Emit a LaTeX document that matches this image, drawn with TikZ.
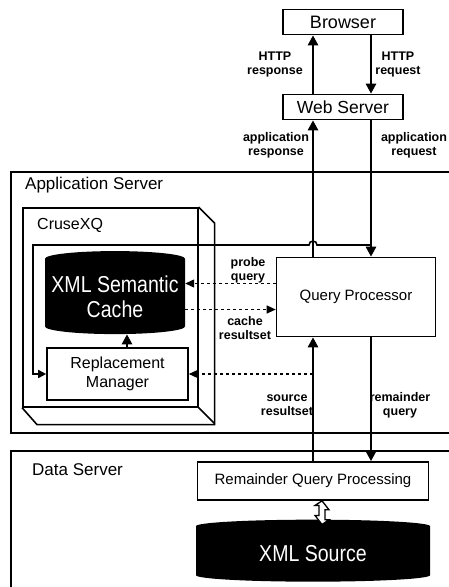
\documentclass[tikz,border=0pt]{standalone}
\usepackage{fontspec}
\setmainfont{Liberation Sans}
\newfontfamily\narrowfont[FakeStretch=0.85]{Liberation Sans}
\usetikzlibrary{shapes.geometric, arrows.meta}
\tikzstyle{box} = [rectangle, draw=black, line width=1.6pt, inner sep=0pt, align=center]
\tikzstyle{server} = [rectangle, draw=black, line width=1.8pt, anchor=north west]
\tikzstyle{store} = [cylinder, shape border rotate=90, aspect=0.12, fill=black, text=white, inner sep=0pt, align=center, font=\narrowfont\fontsize{23}{25}\selectfont]
\tikzstyle{title} = [anchor=west, inner sep=0pt]
\tikzstyle{lbl} = [align=center, inner sep=0pt, font=\bfseries\fontsize{12.5}{14}\selectfont]
\tikzstyle{arrow} = [line width=2.8pt,-{Triangle[length=10pt,width=10pt]}]
\tikzstyle{dasharrow} = [line width=1.3pt,dashed,-{Triangle[length=9pt,width=8pt]}]
\tikzstyle{line} = [draw, line width=1.6pt, -{Triangle[length=8pt,width=8pt]}]
\tikzstyle{hollow} = [draw=black, line width=1.3pt, fill=white, line join=miter]

\begin{document}
\begin{tikzpicture}[x=1pt,y=-1pt]
   \useasboundingbox (0,0) rectangle (448,587);
   % server frames
   \node (appsrv) [server, minimum width=470pt, minimum height=261pt] at (10,171) {};
   \node (applbl) [title, font=\fontsize{17}{19}\selectfont] at (25,185) {Application Server};
   \node (datasrv) [server, minimum width=470pt, minimum height=160pt] at (10,450) {};
   \node (datalbl) [title, font=\fontsize{17}{19}\selectfont] at (32,470) {Data Server};
   % CruseXQ block
   \node (cruse) [box, anchor=north west, minimum width=175pt, minimum height=199pt] at (22,207) {};
   \draw [line width=1.6pt] (cruse.north east) -- ++(16,16) |- ([xshift=15pt,yshift=-17pt]cruse.south west) -- (cruse.south west);
   \draw [line width=1.6pt] (cruse.south east) -- ++(16,16);
   \node (cruselbl) [title, font=\fontsize{16}{18}\selectfont] at (37,225) {CruseXQ};
   \node (cache) [store, minimum width=140pt, minimum height=83pt] at (115,296.5) {XML Semantic\\Cache};
   \node (rm) [box, minimum width=141pt, minimum height=52pt, font=\fontsize{16}{19}\selectfont] at (117.5,374) {Replacement\\Manager};
   % other boxes
   \node (browser) [box, minimum width=120pt, minimum height=25pt, font=\fontsize{18}{20}\selectfont] at (343,22) {Browser};
   \node (web) [box, minimum width=120pt, minimum height=25pt, font=\fontsize{17.5}{20}\selectfont] at (343,107) {Web Server};
   \node (qp) [box, minimum width=159pt, minimum height=79pt, font=\fontsize{15}{17}\selectfont] at (356,297) {Query Processor};
   \node (rqp) [box, minimum width=231pt, minimum height=38pt, font=\fontsize{15}{17}\selectfont] at (313,481) {Remainder Query Processing};
   \node (xsrc) [store, minimum width=234pt, minimum height=62pt] at (313,554) {XML Source};
   % main flows
   \coordinate (up) at (313,0);
   \coordinate (dn) at (371,0);
   \draw [arrow] (up |- web.north) -- (up |- browser.south);
   \draw [arrow] (dn |- browser.south) -- (dn |- web.north);
   \draw [arrow] (up |- qp.north) -- (up |- web.south);
   \draw [arrow] (dn |- web.south) -- (dn |- qp.north);
   \draw [arrow] (up |- rqp.north) -- (up |- qp.south);
   \draw [arrow] (dn |- qp.south) -- (dn |- rqp.north);
   \draw [arrow] ([xshift=9.5pt]rm.north) -- ([xshift=9.5pt]rm.north |- cache.south);
   % two-way link to the source
   \coordinate (ta) at ([xshift=9pt]rqp.south);
   \coordinate (tb) at ([yshift=-5pt]ta |- xsrc.north);
   \draw [hollow] (ta) -- ++(7,9) -- ++(-4,0) -- ++(0,10) -- ++(4,0) -- (tb)
      -- ++(-7,-9) -- ++(4,0) -- ++(0,-10) -- ++(-4,0) -- cycle;
   % cache traffic
   \coordinate (probe) at ([yshift=13pt]cache.east);
   \coordinate (reslt) at ([yshift=-13pt]cache.east);
   \draw [dasharrow] (probe -| qp.west) -- (probe);
   \draw [dasharrow] (reslt) -- (reslt -| qp.west);
   \draw [dasharrow] (up |- rm.east) -- (rm.east);
   % request copy to replacement manager
   \coordinate (lp) at (33,245);
   \coordinate (hop) at (up |- lp);
   \path [line] (dn |- lp) -- ([xshift=4pt]hop) arc (0:-180:4) -- (lp) |- (rm.west);
   % labels
   \node (httpres) [lbl] at (275,64) {HTTP\\response};
   \node (httpreq) [lbl] at (398,64) {HTTP\\request};
   \node (appres) [lbl] at (276,145) {application\\response};
   \node (appreq) [lbl] at (414,145) {application\\request};
   \node (probelbl) [lbl] at (248,270) {probe\\query};
   \node (resltlbl) [lbl] at (245,328) {cache\\resultset};
   \node (srclbl) [lbl] at (287,405) {source\\resultset};
   \node (remlbl) [lbl] at (400,405) {remainder\\query};
\end{tikzpicture}
\end{document}
